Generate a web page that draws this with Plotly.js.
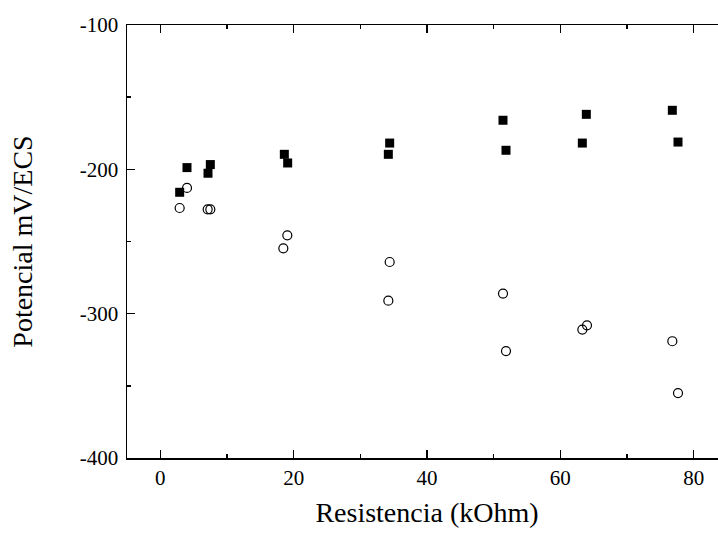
<!DOCTYPE html>
<html>
<head>
<meta charset="utf-8">
<script src="https://cdn.plot.ly/plotly-3.0.1.min.js"></script>
<style>
html,body{margin:0;padding:0;overflow:hidden;background:#fff;}
#chart{width:747px;height:535px;}
</style>
</head>
<body>
<div id="chart"></div>
<script>
// Filled squares series
const sqX = [2.9, 4.0, 7.5, 7.15, 18.6, 19.1, 34.4, 34.2, 51.4, 51.85, 63.9, 63.3, 76.8, 77.65];
const sqY = [-215.9, -198.8, -196.7, -202.7, -189.6, -195.6, -181.8, -189.6, -166.0, -186.8, -161.9, -181.8, -159.1, -181.1];
// Open circles series
const ciX = [2.9, 4.0, 7.1, 7.5, 18.45, 19.05, 34.4, 34.2, 51.4, 51.85, 64.0, 63.3, 76.8, 77.65];
const ciY = [-226.8, -212.9, -227.7, -227.7, -254.7, -245.7, -264.2, -291.0, -286.1, -325.9, -308.1, -311.0, -319.1, -355.0];
// Tick labels
const xTickVals = [0, 20, 40, 60, 80];
const xTickText = ["0", "20", "40", "60", "80"];
const yTickVals = [-100, -200, -300, -400];
const yTickText = ["-100", "-200", "-300", "-400"];

const fontFam = "Liberation Serif, Times New Roman, serif";

const traces = [
  {x: sqX, y: sqY, mode: "markers", type: "scatter",
   marker: {symbol: "square", size: 9, color: "#000"}},
  {x: ciX, y: ciY, mode: "markers", type: "scatter",
   marker: {symbol: "circle-open", size: 9, color: "#000", line: {width: 1.2, color: "#000"}}}
];

const axisCommon = {
  showgrid: false, zeroline: false, showline: true, linecolor: "#000", linewidth: 1.5,
  ticks: "inside", ticklen: 8, tickwidth: 1.5, tickcolor: "#000", mirror: "ticks",
  tickfont: {family: fontFam, size: 21, color: "#000"}
};

const layout = {
  width: 747, height: 535,
  margin: {l: 127, r: 20, t: 25, b: 77},
  paper_bgcolor: "#fff", plot_bgcolor: "#fff",
  showlegend: false,
  xaxis: Object.assign({}, axisCommon, {
    range: [-5, 85],
    tickmode: "array", tickvals: xTickVals, ticktext: xTickText,
    minor: {dtick: 10, tick0: 0, ticks: "inside", ticklen: 4, tickwidth: 1.5, tickcolor: "#000", showgrid: false},
    title: {text: "Resistencia (kOhm)", font: {family: fontFam, size: 28, color: "#000"}, standoff: 13}
  }),
  yaxis: Object.assign({}, axisCommon, {
    range: [-400, -100],
    tickmode: "array", tickvals: yTickVals, ticktext: yTickText,
    ticklabelstandoff: 3,
    minor: {dtick: 50, tick0: 0, ticks: "inside", ticklen: 4, tickwidth: 1.5, tickcolor: "#000", showgrid: false},
    title: {text: "Potencial mV/ECS", font: {family: fontFam, size: 28, color: "#000"}, standoff: 39}
  })
};

Plotly.newPlot("chart", traces, layout, {displayModeBar: false, staticPlot: true});
</script>
</body>
</html>
